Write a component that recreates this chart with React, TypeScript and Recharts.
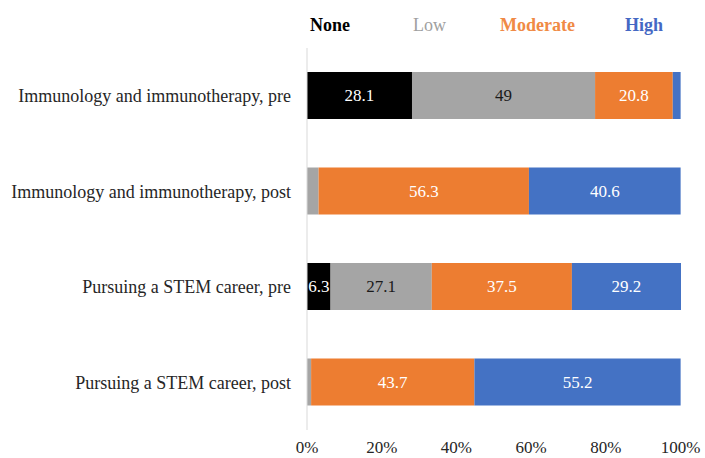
import { BarChart, Bar, XAxis, YAxis, CartesianGrid, Legend, LabelList } from 'recharts';

const categories = [
  'Immunology and immunotherapy, pre',
  'Immunology and immunotherapy, post',
  'Pursuing a STEM career, pre',
  'Pursuing a STEM career, post',
];
const noneValues = [28.1, 0, 6.3, 0];
const lowValues = [49, 3.1, 27.1, 1.1];
const moderateValues = [20.8, 56.3, 37.5, 43.7];
const highValues = [2.1, 40.6, 29.2, 55.2];
const xTicks = [0, 20, 40, 60, 80, 100];

const series = [
  { key: 'none', name: 'None', color: '#000000', text: '#ffffff', legend: '#000000', bold: true },
  { key: 'low', name: 'Low', color: '#a5a5a5', text: '#1a1a1a', legend: '#a0a0a0', bold: false },
  { key: 'moderate', name: 'Moderate', color: '#ed7d31', text: '#ffffff', legend: '#f08a45', bold: true },
  { key: 'high', name: 'High', color: '#4472c4', text: '#ffffff', legend: '#4468c4', bold: true },
];

const data = categories.map((name, i) => ({
  name,
  none: noneValues[i],
  low: lowValues[i],
  moderate: moderateValues[i],
  high: highValues[i],
}));

const FONT = 'Liberation Serif';

// spacing of the legend entries across the top
const legendWidths = [103, 87, 125, 60];

const TopLegend = () => (
  <div style={{ display: 'flex', fontFamily: FONT, fontSize: 18, lineHeight: '20px' }}>
    {series.map((s, i) => (
      <span
        key={s.key}
        style={{ width: legendWidths[i], color: s.legend, fontWeight: s.bold ? 'bold' : 'normal' }}
      >
        {s.name}
      </span>
    ))}
  </div>
);

const makeLabel = (color: string) => (props: any) => {
  const { x, y, width, height, value } = props;
  if (!value || value < 5) return null;
  return (
    <text
      x={x + width / 2}
      y={y + height / 2}
      fill={color}
      textAnchor="middle"
      dominantBaseline="central"
      fontFamily={FONT}
      fontSize={17}
    >
      {value}
    </text>
  );
};

const App = () => {
  return (
    <div style={{ position: 'absolute', left: 0, top: 0, background: '#fff', fontFamily: FONT }}>
      <BarChart
        width={705}
        height={458}
        data={data}
        layout="vertical"
        margin={{ top: 28, right: 24, bottom: 0, left: 0 }}
        barSize={47}
      >
        <CartesianGrid horizontal={false} vertical={false} />
        <XAxis
          type="number"
          domain={[0, 100]}
          ticks={xTicks}
          tickFormatter={(v) => `${v}%`}
          axisLine={false}
          tickLine={false}
          height={28}
          tickMargin={5}
          tick={{ fontSize: 17, fill: '#262626', fontFamily: FONT }}
        />
        <YAxis
          type="category"
          dataKey="name"
          width={307}
          axisLine={{ stroke: '#d9d9d9' }}
          tickLine={false}
          tickMargin={10}
          tick={{ fontSize: 18, fill: '#262626', fontFamily: FONT }}
        />
        <Legend
          verticalAlign="top"
          content={<TopLegend />}
          wrapperStyle={{ top: 15, left: 310, width: 395 }}
        />
        {series.map((s) => (
          <Bar key={s.key} dataKey={s.key} name={s.name} stackId="a" fill={s.color} isAnimationActive={false}>
            <LabelList dataKey={s.key} content={makeLabel(s.text)} />
          </Bar>
        ))}
      </BarChart>
    </div>
  );
};

export default App;
